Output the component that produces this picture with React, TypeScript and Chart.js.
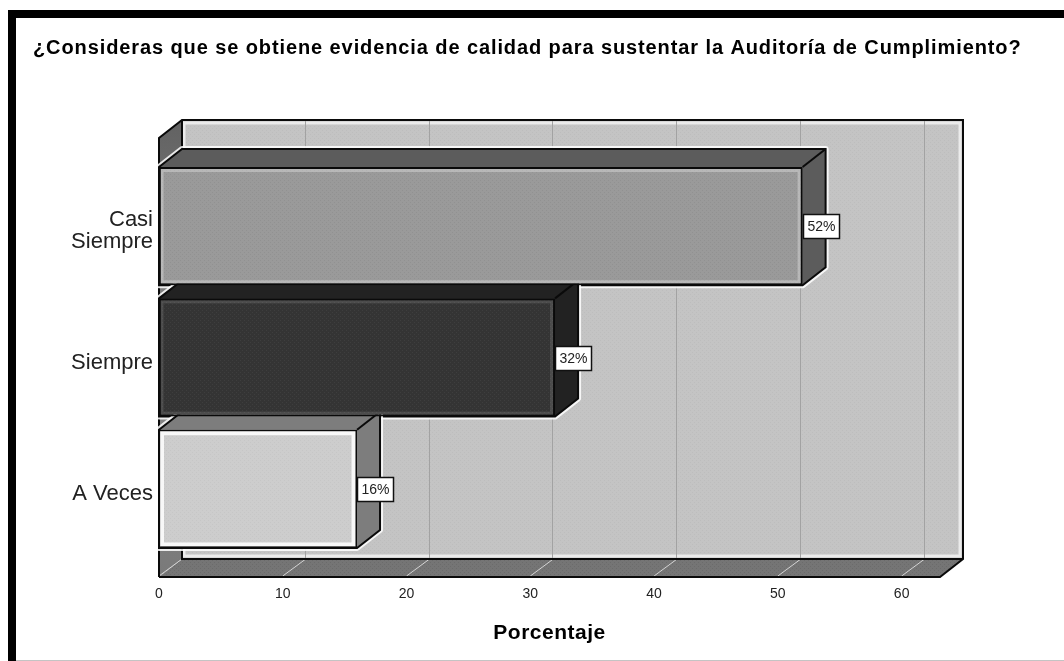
import React, { useEffect, useRef } from "react";
import { Chart, registerables } from "chart.js";

Chart.register(...registerables);

const categories: (string | string[])[] = [["Casi", "Siempre"], "Siempre", "A Veces"];
const percentages = [52, 32, 16];
const axisTicks = [0, 10, 20, 30, 40, 50, 60];
const axisMax = 63.1;
const titleText = "¿Consideras que se obtiene evidencia de calidad para sustentar la Auditoría de Cumplimiento?";
const axisTitle = "Porcentaje";

const sideFills = ["#5c5c5c", "#222222", "#7d7d7d"];
const bevelStyles = ["rgba(255,255,255,0.30)", "rgba(255,255,255,0.12)", "rgba(255,255,255,0.85)"];

const DX = 23;
const DY = 18;
const FONT = '"Liberation Sans", Arial, sans-serif';

function texture(base: string, alt: string) {
  const c = document.createElement("canvas");
  c.width = 4;
  c.height = 4;
  const g = c.getContext("2d")!;
  g.fillStyle = base;
  g.fillRect(0, 0, 4, 4);
  g.fillStyle = alt;
  g.fillRect(0, 0, 1, 1);
  g.fillRect(2, 2, 1, 1);
  return g.createPattern(c, "repeat")!;
}

function poly(ctx: CanvasRenderingContext2D, pts: number[][]) {
  ctx.beginPath();
  pts.forEach((p, i) => (i ? ctx.lineTo(p[0], p[1]) : ctx.moveTo(p[0], p[1])));
  ctx.closePath();
}

function spaced(ctx: any, spacing: string, draw: () => void) {
  ctx.save();
  ctx.letterSpacing = spacing;
  draw();
  ctx.restore();
}

const scenePlugin = {
  id: "scene",
  beforeDraw(chart: any) {
    const { ctx, width, height } = chart;
    // only the two titles are letter-spaced in the reference
    if (!chart.$spacedTitles) {
      chart.$spacedTitles = true;
      const block = chart.titleBlock;
      const drawBlock = block.draw;
      block.draw = function () {
        spaced(ctx, "0.9px", () => drawBlock.call(block));
      };
      const xScale = chart.scales.x;
      const drawAxisTitle = xScale.drawTitle;
      xScale.drawTitle = function () {
        spaced(ctx, "0.5px", () => drawAxisTitle.call(xScale));
      };
    }
    ctx.save();
    ctx.fillStyle = "#ffffff";
    ctx.fillRect(0, 0, width, height);
    // frame
    ctx.fillStyle = "#000000";
    ctx.fillRect(8, 10, width - 8, 8);
    ctx.fillRect(8, 10, 8, height - 10);
    ctx.fillStyle = "#c4c4c4";
    ctx.fillRect(16, height - 1, width - 16, 1);
    ctx.restore();
  },
  beforeDatasetsDraw(chart: any) {
    const { ctx, chartArea, scales } = chart;
    const x = scales.x;
    const L = chartArea.left;
    const R = chartArea.right;
    const T = chartArea.top - 22.5;
    const B = chartArea.bottom + 22.5;
    ctx.save();

    // back wall
    ctx.fillStyle = texture("#c4c4c4", "#bdbdbd");
    ctx.fillRect(L + DX, T - DY, R - L, B - T);
    // wall bevel
    ctx.strokeStyle = "rgba(240,240,240,0.9)";
    ctx.lineWidth = 3;
    ctx.beginPath();
    ctx.moveTo(L + DX + 2, B - DY - 3);
    ctx.lineTo(R + DX - 3, B - DY - 3);
    ctx.lineTo(R + DX - 3, T - DY + 3);
    ctx.lineTo(L + DX + 2, T - DY + 3);
    ctx.closePath();
    ctx.stroke();

    // wall grid
    ctx.strokeStyle = "#a2a2a2";
    ctx.lineWidth = 1;
    axisTicks.forEach((v) => {
      const px = Math.round(x.getPixelForValue(v)) + 0.5;
      if (v === 0) return;
      ctx.beginPath();
      ctx.moveTo(px + DX - 1, T - DY);
      ctx.lineTo(px + DX - 1, B - DY);
      ctx.stroke();
    });

    // left wall
    const lg = ctx.createLinearGradient(0, T - DY, 0, B);
    lg.addColorStop(0, "#626262");
    lg.addColorStop(0.5, "#888888");
    lg.addColorStop(1, "#7a7a7a");
    ctx.fillStyle = lg;
    poly(ctx, [[L, T], [L + DX, T - DY], [L + DX, B - DY], [L, B]]);
    ctx.fill();

    // floor
    ctx.fillStyle = texture("#757575", "#6b6b6b");
    poly(ctx, [[L, B], [R, B], [R + DX, B - DY], [L + DX, B - DY]]);
    ctx.fill();
    ctx.strokeStyle = "#d4d4d4";
    ctx.lineWidth = 1;
    axisTicks.forEach((v) => {
      const px = x.getPixelForValue(v);
      ctx.beginPath();
      ctx.moveTo(px, B - 1);
      ctx.lineTo(px + DX, B - DY);
      ctx.stroke();
    });

    // outlines
    ctx.strokeStyle = "#0a0a0a";
    ctx.lineWidth = 2;
    ctx.beginPath();
    ctx.moveTo(L, B);
    ctx.lineTo(L, T);
    ctx.lineTo(L + DX, T - DY);
    ctx.lineTo(R + DX, T - DY);
    ctx.lineTo(R + DX, B - DY);
    ctx.lineTo(R, B);
    ctx.lineTo(L, B);
    ctx.moveTo(L + DX, T - DY);
    ctx.lineTo(L + DX, B - DY);
    ctx.lineTo(R + DX, B - DY);
    ctx.stroke();

    // bar side and top faces, with halo
    const meta = chart.getDatasetMeta(0);
    meta.data.forEach((el: any, i: number) => {
      const h = el.height;
      const top = el.y - h / 2;
      const bot = el.y + h / 2;
      const b = el.base;
      const e = el.x;
      const outline = [[b, top], [b + DX, top - DY], [e + DX, top - DY], [e + DX, bot - DY], [e, bot], [b, bot]];
      ctx.strokeStyle = "rgba(255,255,255,0.85)";
      ctx.lineWidth = 6;
      ctx.lineJoin = "round";
      poly(ctx, outline);
      ctx.stroke();
      ctx.lineJoin = "miter";
      ctx.fillStyle = sideFills[i];
      poly(ctx, outline);
      ctx.fill();
      ctx.strokeStyle = "#0a0a0a";
      ctx.lineWidth = 2;
      poly(ctx, outline);
      ctx.stroke();
      ctx.beginPath();
      ctx.moveTo(e, top);
      ctx.lineTo(e + DX, top - DY);
      ctx.stroke();
    });
    ctx.restore();
  },
  afterDatasetsDraw(chart: any) {
    const { ctx } = chart;
    const meta = chart.getDatasetMeta(0);
    ctx.save();
    meta.data.forEach((el: any, i: number) => {
      const h = el.height;
      const top = el.y - h / 2;
      const b = el.base;
      const e = el.x;
      // inner bevel
      ctx.strokeStyle = bevelStyles[i];
      ctx.lineWidth = i === 2 ? 4 : 3;
      ctx.strokeRect(b + 3, top + 3.5, e - b - 6.5, h - 7);
      // value label
      const label = `${percentages[i]}%`;
      const bx = Math.round(e) + 0.5;
      const by = Math.round(el.y - 12) + 0.5;
      ctx.fillStyle = "#ffffff";
      ctx.fillRect(bx, by, 36, 24);
      ctx.strokeStyle = "#111111";
      ctx.lineWidth = 1.5;
      ctx.strokeRect(bx, by, 36, 24);
      ctx.fillStyle = "#222222";
      ctx.font = `14px ${FONT}`;
      ctx.textAlign = "center";
      ctx.textBaseline = "middle";
      ctx.fillText(label, bx + 18, by + 13);
    });
    ctx.restore();
  },
};

export default function App() {
  const ref = useRef<HTMLCanvasElement>(null);
  useEffect(() => {
    const canvas = ref.current!;
    const chart = new Chart(canvas, {
      type: "bar",
      plugins: [scenePlugin as any],
      data: {
        labels: categories as any,
        datasets: [
          {
            label: axisTitle,
            data: percentages,
            backgroundColor: [
              texture("#9a9a9a", "#919191"),
              texture("#343434", "#3e3e3e"),
              texture("#cdcdcd", "#c6c6c6"),
            ] as any,
            borderColor: "#0a0a0a",
            borderWidth: 2,
            borderSkipped: false,
            categoryPercentage: 0.9,
            barPercentage: 1,
          },
        ],
      },
      options: {
        indexAxis: "y",
        responsive: false,
        animation: false,
        layout: { padding: { left: 33, right: 0, top: 0, bottom: 0 } },
        plugins: {
          legend: { display: false },
          tooltip: { enabled: false },
          title: {
            display: true,
            text: titleText,
            align: "start",
            color: "#000000",
            font: { family: FONT, size: 20, weight: "bold", lineHeight: 1.2 },
            padding: { top: 36.5, bottom: 100 },
          },
        },
        scales: {
          x: {
            type: "linear",
            min: 0,
            max: axisMax,
            grid: { display: false },
            border: { display: false },
            ticks: {
              stepSize: 10,
              includeBounds: false,
              padding: 23,
              color: "#222222",
              maxRotation: 0,
              font: { family: FONT, size: 14 },
            },
            title: {
              display: true,
              text: axisTitle,
              color: "#000000",
              font: { family: FONT, size: 21, weight: "bold", lineHeight: 1.2 },
              padding: { top: 0, bottom: 15 },
            },
            afterFit(scale: any) {
              scale.height = 106.5;
            },
          },
          y: {
            type: "category",
            grid: { display: false, drawTicks: false },
            border: { display: false },
            ticks: {
              padding: 6,
              labelOffset: 5,
              color: "#222222",
              autoSkip: false,
              font: { family: FONT, size: 22, lineHeight: 1 },
            },
            afterFit(scale: any) {
              scale.width = 126;
            },
          },
          rightGap: {
            type: "linear",
            axis: "y",
            position: "right",
            grid: { display: false },
            border: { display: false },
            ticks: { display: false },
            afterFit(scale: any) {
              scale.width = 124;
            },
          },
        },
      } as any,
    });
    return () => chart.destroy();
  }, []);
  return (
    <div style={{ position: "absolute", left: 0, top: 0, width: 1064, height: 661 }}>
      <canvas ref={ref} width={1064} height={661} style={{ display: "block", filter: "blur(0.4px)" }} />
    </div>
  );
}
